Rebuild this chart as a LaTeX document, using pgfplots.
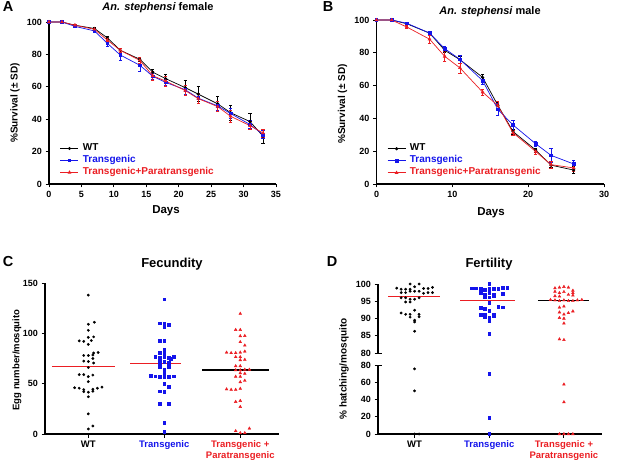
\documentclass[border=0pt]{standalone}
\usepackage{pgfplots}
\pgfplotsset{compat=1.18}
\usepackage{fontspec}
\setmainfont{Liberation Sans}

\definecolor{gpblue}{RGB}{20,20,235}
\definecolor{gpred}{RGB}{235,30,35}

\pgfplotsset{
  gp/.style={
    scale only axis,
    axis x line*=bottom, axis y line*=left,
    axis line style={line width=1.1pt, black},
    every tick/.style={line width=0.9pt, black},
    major tick length=3.5pt, tick align=outside,
    tick label style={font=\bfseries\fontsize{9}{10}\selectfont},
    /pgf/number format/assume math mode=true,
    clip=false,
  },
  surv/.style={gp,
    legend style={draw=none, fill=none, anchor=north west,
      font=\bfseries\fontsize{10}{11}\selectfont,
      nodes={inner sep=0pt, text height=8pt, text depth=4pt},
      column sep=4pt, row sep=0pt},
    legend cell align=left,
    legend image code/.code={\draw[mark repeat=2,mark phase=2,##1] plot coordinates {(0pt,0pt) (9pt,0pt) (18pt,0pt)};},
    error bars/y dir=both, error bars/y explicit,
    error bars/error mark options={rotate=90, mark size=1.6pt, line width=0.6pt},
    error bars/error bar style={line width=0.6pt},
  },
  wt/.style={black, line width=0.7pt, mark=*, mark size=1.2pt},
  tg/.style={gpblue, line width=0.7pt, mark=square*, mark size=1.3pt},
  tp/.style={gpred, line width=0.7pt, mark=triangle*, mark size=1.5pt},
  swt/.style={only marks, black, mark=*, mark size=1.2pt},
  stg/.style={only marks, gpblue, mark=square*, mark size=1.4pt},
  stp/.style={only marks, gpred, mark=triangle*, mark size=1.6pt},
  meanline/.style={line width=1.8pt, mark=none},
}

\begin{document}
\begin{tikzpicture}[x=1pt,y=1pt]
\useasboundingbox (0,0) rectangle (617,463);

% ---------------- A ----------------
\begin{axis}[surv, at={(49pt,279pt)}, anchor=south west,
  width=227pt, height=162pt,
  xmin=0, xmax=35, ymin=0, ymax=100,
  xtick={0,5,...,35}, ytick={0,20,...,100},
  legend style={at={(axis description cs:0.035,0.27)}}]
\addplot[wt] coordinates {
  (0,100) +- (0,0) (2,100) +- (0,0) (4,98) +- (0,0.8) (7,96) +- (0,1)
  (9,90.2) +- (0,1) (11,82.5) +- (0,1) (14,77) +- (0,1.5) (16,69) +- (0,2)
  (18,65) +- (0,3) (21,59.5) +- (0,4.5) (23,55.5) +- (0,4.5) (26,49.5) +- (0,4.5)
  (28,44) +- (0,4.5) (31,38.5) +- (0,5) (33,29.5) +- (0,4.5)};
\addplot[tg] coordinates {
  (0,100) +- (0,0) (2,100) +- (0,0) (4,97.3) +- (0,0.5) (7,94.5) +- (0,0.8)
  (9,86.8) +- (0,1.5) (11,79.6) +- (0,3) (14,73.3) +- (0,3.5) (16,66.5) +- (0,2)
  (18,62.7) +- (0,2) (21,58.2) +- (0,3) (23,53) +- (0,3) (26,48.2) +- (0,3)
  (28,43.5) +- (0,3) (31,36.7) +- (0,2.5) (33,30.5) +- (0,2.5)};
\addplot[tp] coordinates {
  (0,100) +- (0,0) (2,100) +- (0,0) (4,98) +- (0,0.5) (7,95.5) +- (0,0.8)
  (9,88.8) +- (0,1) (11,82.5) +- (0,1) (14,76.3) +- (0,2) (16,66.8) +- (0,3)
  (18,63.5) +- (0,3) (21,57.7) +- (0,3) (23,52.7) +- (0,3) (26,47.8) +- (0,3)
  (28,41.8) +- (0,3.5) (31,36) +- (0,2.5) (33,31.5) +- (0,2.5)};
\legend{WT, \textcolor{gpblue}{Transgenic}, \textcolor{gpred}{Transgenic+Paratransgenic}}
\end{axis}

% ---------------- B ----------------
\begin{axis}[surv, at={(376.5pt,279pt)}, anchor=south west,
  width=227.5pt, height=164pt,
  xmin=0, xmax=30, ymin=0, ymax=100,
  xtick={0,10,20,30}, ytick={0,20,...,100},
  legend style={at={(axis description cs:0.033,0.265)}}]
\addplot[wt] coordinates {
  (0,100) +- (0,0) (2,100) +- (0,0) (4,97.7) +- (0,0.5) (7,92) +- (0,1.2)
  (9,81.5) +- (0,1.5) (11,75.8) +- (0,2) (14,65) +- (0,2) (16,48) +- (0,2)
  (18,32) +- (0,1.5) (21,20.7) +- (0,1.2) (23,11.5) +- (0,1.5) (26,8.5) +- (0,2)};
\addplot[tg] coordinates {
  (0,100) +- (0,0) (2,100) +- (0,0) (4,98) +- (0,0.5) (7,92) +- (0,1.2)
  (9,82.5) +- (0,1.5) (11,76) +- (0,2.5) (14,63) +- (0,2) (16,45.5) +- (0,3.5)
  (18,36) +- (0,3) (21,24.5) +- (0,1.8) (23,17.5) +- (0,4) (26,12.2) +- (0,2.5)};
\addplot[tp] coordinates {
  (0,100) +- (0,0) (2,100) +- (0,0) (4,95.7) +- (0,1) (7,88.3) +- (0,2.5)
  (9,77.8) +- (0,3) (11,70.8) +- (0,3) (14,56) +- (0,2) (16,47.8) +- (0,2.5)
  (18,31.2) +- (0,1.5) (21,19.8) +- (0,1.5) (23,11.8) +- (0,2) (26,9.8) +- (0,2)};
\legend{WT, \textcolor{gpblue}{Transgenic}, \textcolor{gpred}{Transgenic+Paratransgenic}}
\end{axis}

% ---------------- C ----------------
\begin{axis}[gp, at={(45pt,29pt)}, anchor=south west,
  width=234pt, height=151pt,
  xmin=-0.57, xmax=2.51, ymin=0, ymax=150,
  ytick={0,50,100,150}, xtick={0,1,2},
  xticklabel style={align=center, font=\bfseries\fontsize{9.5}{11}\selectfont},
  xticklabels={WT, \textcolor{gpblue}{Transgenic}, {\textcolor{gpred}{Transgenic +}\\\textcolor{gpred}{Paratransgenic}}}]
\addplot[swt] coordinates {
  (0,138) (0.08,111) (0,109) (0,103) (0,96) (0.07,96.5)
  (-0.12,92.5) (-0.06,92) (0.04,92.8) (0,89) (0.07,80.5) (0.13,81)
  (-0.06,78) (0,78) (0.06,78.5) (0.06,75) (-0.06,72.5) (0,72) (0.07,70.5)
  (0,66) (-0.12,59) (-0.06,59) (0.06,58.5) (0,57) (0,52)
  (-0.18,46) (-0.12,45.5) (0.12,45.5) (0.18,46.5) (-0.06,44) (0.06,44.5)
  (-0.06,42) (0,41.5) (0.06,42.5) (0,37) (0,20) (0.06,8) (0,5)};
\addplot[stg] coordinates {
  (1,134) (0.94,110) (1,110) (1.06,108.5) (1,106.5) (0.94,93) (1,93) (1,84)
  (0.94,80.5) (1,80) (0.88,77) (0.94,75.5) (1,76.5) (1.06,76) (1.12,77)
  (0.94,73.5) (1.08,74.5) (1,72) (0.94,70) (1.06,70.5) (0.94,67) (1.06,67)
  (1,64) (1,60.5) (0.82,58) (0.88,57.5) (0.94,57) (1,57) (1.06,57) (1.12,57.5)
  (1,50) (1.06,47) (0.94,42.5) (1,42) (0.94,30.5) (1.06,30) (1,11) (1,2)};
\addplot[stp] coordinates {
  (2,119.5) (1.94,103.5) (2,103.5) (2,97.3) (2.06,97.5) (2,91.4) (2.06,88)
  (1.82,81) (1.88,80.5) (1.94,80.5) (2,81) (2.06,82) (1.94,76.5) (2,76.5)
  (2,73.5) (2.06,73.8) (1.94,67.5) (2,67.5) (1.94,63.5) (2,63.5) (2.06,64) (2.12,64)
  (2,60.5) (2.06,60) (1.94,57) (2,57) (2.06,53) (2,51.6)
  (1.82,44.5) (1.88,44) (1.94,44) (2,45) (1.94,32) (2,33) (2,27)
  (1.94,3) (2,1) (2.06,1) (2.12,5.5)};
\addplot[gpred, meanline] coordinates {(-0.48,67) (0.35,67)};
\addplot[gpred, meanline] coordinates {(0.55,70) (1.22,70)};
\addplot[black, meanline] coordinates {(1.5,63.5) (2.38,63.5)};
\end{axis}

% ---------------- D (lower) ----------------
\begin{axis}[gp, at={(378pt,29pt)}, anchor=south west,
  width=224pt, height=69pt,
  xmin=-0.49, xmax=2.51, ymin=0, ymax=80,
  ytick={0,20,...,80}, xtick={0,1,2},
  xticklabel style={align=center, font=\bfseries\fontsize{9.5}{11}\selectfont},
  xticklabels={WT, \textcolor{gpblue}{Transgenic}, {\textcolor{gpred}{Transgenic +}\\\textcolor{gpred}{Paratransgenic}}}]
\addplot[swt] coordinates {(0,75.5) (0,50) (0,0) (0.06,0)};
\addplot[stg] coordinates {(1,70) (1,18.5) (1,0)};
\addplot[stp] coordinates {(2,57.5) (2,37) (1.94,0) (2,0) (2.06,0) (2.12,0)};
\end{axis}

% ---------------- D (upper) ----------------
\begin{axis}[gp, at={(378pt,110pt)}, anchor=south west,
  width=224pt, height=69pt,
  axis x line=none,
  xmin=-0.49, xmax=2.51, ymin=80, ymax=100,
  ytick={80,85,...,100}]
\addplot[swt] coordinates {
  (-0.06,100) (0.06,100)
  (-0.24,98.8) (-0.18,98.5) (-0.12,98.5) (-0.06,98.5) (0,99.2) (0.12,98.7) (0.18,98.7) (0.24,99)
  (-0.18,97.5) (-0.12,97.5) (-0.06,97.9) (0,97.9) (0.06,97.9) (0.12,97.3) (0.18,97.5) (0.24,97.5)
  (-0.18,96) (-0.12,96) (-0.06,95.6) (0,95.6) (0.06,96)
  (-0.12,94.8) (-0.06,94.8) (0,92.4)
  (-0.18,91.6) (-0.12,91.2) (-0.06,91.2) (0.06,91.2)
  (-0.06,90.4) (0,89.5) (0.06,90.5) (0,89) (0,86.3)};
\addplot[stg] coordinates {
  (1,100)
  (0.76,98.8) (0.82,98.8) (0.88,98.6) (0.94,98.4) (1,98.6) (1.06,98.7) (1.12,98.7) (1.18,98.9) (1.24,99)
  (0.88,97.4) (0.94,97) (1,97.4) (1.06,97) (1.18,97.2)
  (0.94,96.2) (1,96.2) (1.06,96.6) (1,94.6)
  (0.88,93.2) (0.94,92.9) (1.12,93.5) (1.18,93.3) (1,92.3)
  (0.88,91.2) (0.94,91.2) (1.06,91.2)
  (0.94,90.5) (1,90.3) (1.06,90.7) (1,89.2) (1,85.7)};
\addplot[stp] coordinates {
  (1.88,98.8) (1.94,99) (2,99.2) (2.06,99)
  (1.88,97.8) (1.94,97.4) (2,97.7) (2.12,98.1) (2.12,97.4)
  (1.88,96.5) (1.94,96.4) (2.06,96.9) (2.12,96.7)
  (1.82,95.4) (1.88,95.3) (1.94,95.1) (2,95.3) (2.06,95.1) (2.12,95.1) (2.18,95.3) (2.24,95.4)
  (1.94,93.2) (2,93.5) (1.94,91.8) (2,91.2) (2.06,91.6) (2.12,92.1)
  (1.94,90.2) (2,90) (2,88.6) (1.94,84) (2,83.8)};
\addplot[gpred, meanline] coordinates {(-0.35,96.4) (0.34,96.4)};
\addplot[gpred, meanline] coordinates {(0.61,95.2) (1.35,95.2)};
\addplot[black, meanline] coordinates {(1.65,95.2) (2.34,95.2)};
\end{axis}

% axis break marks (D)
\draw[line width=0.9pt] (377,110) -- (382,110);
\draw[line width=0.9pt] (377,98) -- (382,98);

% ---------------- text ----------------
\begin{scope}[every node/.style={inner sep=0pt}]
\node[font=\bfseries\fontsize{14.5}{15}\selectfont] at (8,456) {A};
\node[font=\bfseries\fontsize{14.5}{15}\selectfont] at (328,456) {B};
\node[font=\bfseries\fontsize{14.5}{15}\selectfont] at (8,201) {C};
\node[font=\bfseries\fontsize{14.5}{15}\selectfont] at (332,201) {D};
\node[font=\bfseries\fontsize{11}{12}\selectfont] at (158,455) {\itshape An. stephensi\upshape{} female};
\node[font=\bfseries\fontsize{11}{12}\selectfont] at (490,451) {\itshape An. stephensi\upshape{} male};
\node[font=\bfseries\fontsize{13}{14}\selectfont] at (172,199) {Fecundity};
\node[font=\bfseries\fontsize{13}{14}\selectfont] at (489,199) {Fertility};
\node[font=\bfseries\fontsize{11.5}{12}\selectfont] at (166,252) {Days};
\node[font=\bfseries\fontsize{11.5}{12}\selectfont] at (491,250) {Days};
\node[rotate=90, font=\bfseries\fontsize{10}{11}\selectfont] at (15,360) {\%Survival (± SD)};
\node[rotate=90, font=\bfseries\fontsize{10}{11}\selectfont] at (342.5,359) {\%Survival (± SD)};
\node[rotate=90, font=\bfseries\fontsize{9.5}{11}\selectfont] at (17,103) {Egg number/mosquito};
\node[rotate=90, font=\bfseries\fontsize{10}{11}\selectfont] at (344,94) {\% hatching/mosquito};
\end{scope}
\end{tikzpicture}
\end{document}
